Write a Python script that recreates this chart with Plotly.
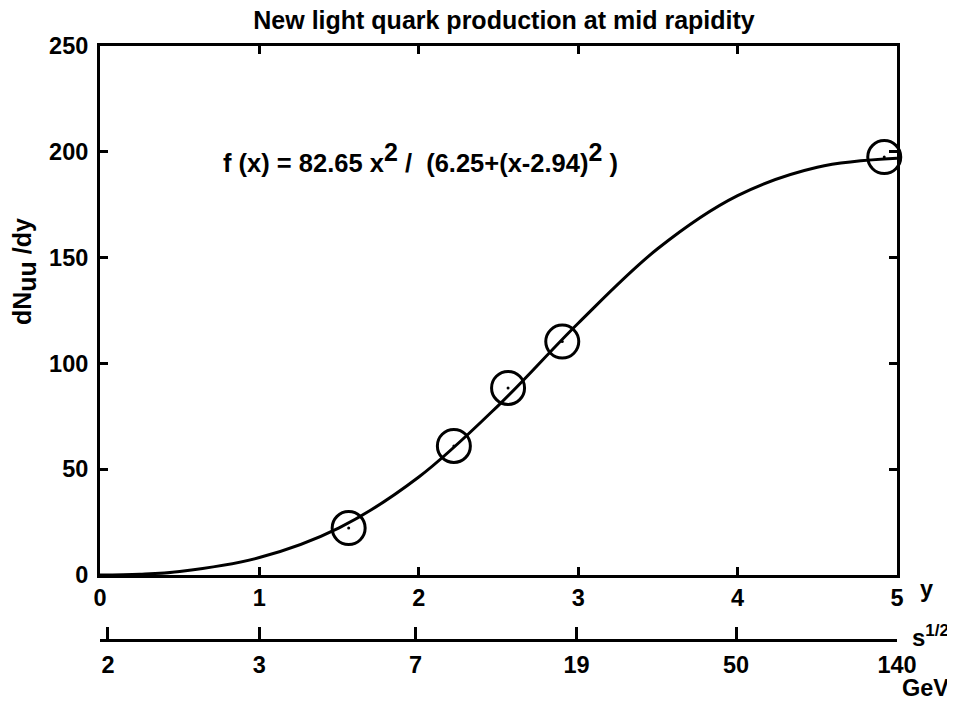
import plotly.graph_objects as go

# Data
rapidity = [1.56, 2.22, 2.56, 2.90, 4.92]
dn_dy = [22.2, 61.0, 88.4, 110.3, 197.5]

# Fit curve samples
curve_x = [0.0, 0.25, 0.5, 1.0, 1.5, 2.0, 2.5, 3.0, 3.5, 4.0, 4.5, 5.0]
curve_y = [0.0, 0.38, 1.69, 8.25, 22.3, 46.3, 80.2, 119.0, 154.3, 179.3, 192.7, 196.9]

# Axis ticks
y_ticks = [0, 50, 100, 150, 200, 250]
x_ticks = [0, 1, 2, 3, 4, 5]
sqrt_s_pos = [0.05, 1.0, 1.98, 2.99, 3.99, 5.0]
sqrt_s_labels = ["2", "3", "7", "19", "50", "140"]

FONT = "Liberation Sans, Arial, sans-serif"
fig = go.Figure()
fig.add_trace(go.Scatter(x=curve_x, y=curve_y, mode="lines",
                         line=dict(color="black", width=3, shape="spline"),
                         showlegend=False, hoverinfo="skip"))
fig.add_trace(go.Scatter(x=rapidity, y=dn_dy, mode="markers",
                         marker=dict(symbol="circle-open", size=33, color="black",
                                     line=dict(width=3, color="black")),
                         showlegend=False, cliponaxis=False))
fig.add_trace(go.Scatter(x=rapidity, y=dn_dy, mode="markers",
                         marker=dict(symbol="circle", size=3, color="black"),
                         showlegend=False, cliponaxis=False))
# invisible trace on xaxis2 so it renders
fig.add_trace(go.Scatter(x=[0, 5], y=[None, None], xaxis="x2", yaxis="y",
                         mode="lines", showlegend=False, hoverinfo="skip"))

TS = 23.5
tickfont = dict(family=FONT, size=TS, color="black")
# page has an 8px body margin, so the figure is drawn 8px smaller and shifted
W, H = 947, 694
L, T, R, B = 92, 38, 58, 62
fig.update_layout(
    width=W, height=H,
    margin=dict(l=L, r=R, t=T, b=B),
    paper_bgcolor="white", plot_bgcolor="white",
    title=dict(text="<b>New light quark production at mid rapidity</b>",
               xref="paper", x=(504 - 8 - L) / (W - L - R), xanchor="center",
               yref="container", y=1 - 12 / H, yanchor="middle",
               font=dict(family=FONT, size=25, color="black")),
    xaxis=dict(range=[0, 5], tickvals=x_ticks, ticktext=[f"<b>{v}</b>" for v in x_ticks],
               showline=True, linewidth=3, linecolor="black", mirror="ticks",
               ticks="inside", ticklen=8, tickwidth=2.5, tickcolor="black",
               showgrid=False, zeroline=False, tickfont=tickfont, anchor="y"),
    xaxis2=dict(range=[0, 5], tickvals=sqrt_s_pos,
                ticktext=[f"<b>{t}</b>" for t in sqrt_s_labels],
                overlaying="x", side="bottom", anchor="free", position=0,
                showline=True, linewidth=3, linecolor="black",
                ticks="inside", ticklen=12, tickwidth=2.5, tickcolor="black",
                showgrid=False, zeroline=False, tickfont=tickfont, ticklabelstandoff=3),
    yaxis=dict(range=[0, 250], tickvals=y_ticks, ticktext=[f"<b>{v}</b>" for v in y_ticks],
               domain=[0.1094, 1],
               showline=True, linewidth=3, linecolor="black", mirror="ticks",
               ticks="inside", ticklen=8, tickwidth=2.5, tickcolor="black",
               showgrid=False, zeroline=False, tickfont=tickfont, ticklabelstandoff=4),
)

PW, PH = W - L - R, H - T - B
def px(xp): return (xp - 8 - L) / PW
def py(yp): return 1 - (yp - 8 - T) / PH

def ann(text, x, y, size=TS, angle=0, xanchor="center", yanchor="middle"):
    fig.add_annotation(text=text, x=px(x), y=py(y), xref="paper", yref="paper",
                       showarrow=False, textangle=angle, xanchor=xanchor, yanchor=yanchor,
                       borderpad=0, font=dict(family=FONT, size=size, color="black"))

span = '<span style="font-size:{}px">{}</span>'
ann("<b>f (x) = 82.65 x<sup>" + span.format(25, "2") + "</sup> /  (6.25+(x-2.94)<sup>"
    + span.format(25, "2") + "</sup> )</b>", 222, 157, size=25.5, xanchor="left")
ann("<b>dN<sub>" + span.format(25, "uu") + "</sub> /dy</b>", 24, 272, size=25, angle=-90)
ann("<b>y</b>", 926, 589)
ann("<b>s<sup>" + span.format(17, "1/2") + "</sup></b>", 930, 636, size=24)
ann("<b>GeV</b>", 925, 688)

fig.write_html("out.html")
